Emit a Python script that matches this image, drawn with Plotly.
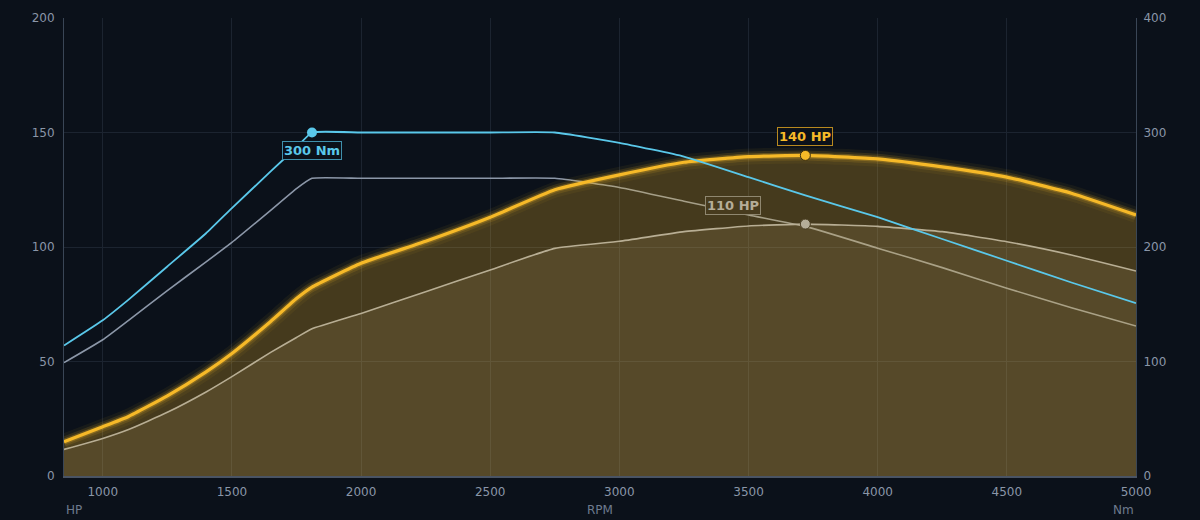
import plotly.graph_objects as go

# engine speed (RPM)
rpm = [850, 1000, 1100, 1250, 1400, 1500, 1650, 1750, 1810, 2000, 2250, 2500, 2750,
       3000, 3250, 3500, 3720, 4000, 4250, 4500, 4750, 5000]

# power curves (HP)
hp_tuned = [15, 21.5, 26, 35, 45.5, 53.5, 67.5, 77.5, 82.5, 92.9, 102.5, 113, 125,
            131.5, 137, 139.5, 140, 138.5, 135, 130.5, 123.5, 114]
hp_stock = [11.6, 16.4, 20.3, 27.8, 36.7, 43.4, 54, 60.5, 64.3, 71, 80.5, 90, 99.4,
            102.5, 106.7, 109.2, 110, 109, 106.7, 102.3, 96.5, 89.5]

# torque curves (Nm)
nm_tuned = [114, 136, 154, 183, 212, 234, 266, 287, 300, 300, 300, 300, 300,
            291, 279, 261, 245, 226, 207, 188, 169, 151]
nm_stock = [99, 119, 136, 162, 187, 204, 232, 251, 260, 260, 260, 260, 260,
            252, 240, 228, 218, 199, 182, 164, 147, 131]

x_ticks = [1000, 1500, 2000, 2500, 3000, 3500, 4000, 4500, 5000]

BG = "#0b111a"
GRID = "#1c2430"
TICK = "#8a96a8"
YELLOW = "#f6b928"
CYAN = "#5ac8ea"
TAN = "#b8ae94"
FONT = "DejaVu Sans"
SMOOTH = 0.4

fig = go.Figure()

# stock torque sits under the power fills (base subplot, Nm)
fig.add_trace(go.Scatter(x=rpm, y=nm_stock, mode="lines", yaxis="y",
                         line=dict(color="#8c97a8", width=1.6, shape="spline", smoothing=SMOOTH),
                         hoverinfo="skip"))

# power traces on the HP axis
fig.add_trace(go.Scatter(x=rpm, y=hp_tuned, mode="lines", yaxis="y2", fill="tozeroy",
                         fillcolor="rgba(245,185,40,0.25)",
                         line=dict(width=0, shape="spline", smoothing=SMOOTH),
                         hoverinfo="skip"))
fig.add_trace(go.Scatter(x=rpm, y=hp_stock, mode="lines", yaxis="y2", fill="tozeroy",
                         fillcolor="rgba(200,175,120,0.13)",
                         line=dict(color=TAN, width=1.6, shape="spline", smoothing=SMOOTH),
                         hoverinfo="skip"))
# glow
for w, a in [(16, 0.06), (10, 0.13), (6, 0.25)]:
    fig.add_trace(go.Scatter(x=rpm, y=hp_tuned, mode="lines", yaxis="y2",
                             line=dict(color=f"rgba(245,185,40,{a})", width=w,
                                       shape="spline", smoothing=SMOOTH),
                             hoverinfo="skip"))
fig.add_trace(go.Scatter(x=rpm, y=hp_tuned, mode="lines", yaxis="y2",
                         line=dict(color=YELLOW, width=3.2, shape="spline", smoothing=SMOOTH),
                         hoverinfo="skip"))

# peak markers
pk_t = hp_tuned.index(max(hp_tuned))
pk_s = hp_stock.index(max(hp_stock))
fig.add_trace(go.Scatter(x=[rpm[pk_s]], y=[hp_stock[pk_s]], mode="markers", yaxis="y2",
                         marker=dict(color="#b5ad98", size=10,
                                     line=dict(color="#4a3e22", width=1)), hoverinfo="skip"))
fig.add_trace(go.Scatter(x=[rpm[pk_t]], y=[hp_tuned[pk_t]], mode="markers", yaxis="y2",
                         marker=dict(color=YELLOW, size=10,
                                     line=dict(color="#3a2e10", width=1)), hoverinfo="skip"))

# tuned torque on top
pk_n = nm_tuned.index(max(nm_tuned))
fig.add_trace(go.Scatter(x=rpm, y=nm_tuned, mode="lines", yaxis="y3",
                         line=dict(color=CYAN, width=1.8, shape="spline", smoothing=SMOOTH),
                         hoverinfo="skip"))
fig.add_trace(go.Scatter(x=[rpm[pk_n]], y=[nm_tuned[pk_n]], mode="markers", yaxis="y3",
                         marker=dict(color=CYAN, size=10), hoverinfo="skip"))

label_font = dict(family=FONT, size=13)
title_font = dict(family=FONT, size=12, color="#6e7b8e")
annotations = [
    dict(x=rpm[pk_n], y=nm_tuned[pk_n], xref="x", yref="y3", text="<b>300 Nm</b>",
         showarrow=False, yshift=-18, font=dict(color=CYAN, **label_font),
         bgcolor=BG, bordercolor="#3f8fab", borderwidth=1, borderpad=1),
    dict(x=rpm[pk_t], y=hp_tuned[pk_t], xref="x", yref="y2", text="<b>140 HP</b>",
         showarrow=False, yshift=19, font=dict(color=YELLOW, **label_font),
         bgcolor=BG, bordercolor="#b8891f", borderwidth=1, borderpad=1),
    dict(x=rpm[pk_s], y=hp_stock[pk_s], xref="x", yref="y2", text="<b>110 HP</b>",
         showarrow=False, yshift=19, xshift=-72, font=dict(color="#b5ad98", **label_font),
         bgcolor="#473b1e", bordercolor="#8f8770", borderwidth=1, borderpad=1),
    dict(x=0, y=-0.074, xref="paper", yref="paper", text="HP", showarrow=False,
         xanchor="left", yanchor="middle", font=title_font),
    dict(x=0.5, y=-0.074, xref="paper", yref="paper", text="RPM", showarrow=False,
         xanchor="center", yanchor="middle", font=title_font),
    dict(x=1, y=-0.074, xref="paper", yref="paper", text="Nm", showarrow=False,
         xanchor="right", yanchor="middle", font=title_font),
]

fig.update_layout(
    width=1200, height=520,
    paper_bgcolor=BG, plot_bgcolor=BG,
    margin=dict(l=64, r=64, t=18, b=44),
    showlegend=False,
    font=dict(family=FONT, size=12, color=TICK),
    xaxis=dict(range=[850, 5000], tickvals=x_ticks, showgrid=True, gridcolor=GRID,
               zeroline=False, showline=True, linecolor="#4a5464", linewidth=2,
               ticks="", ticklabelstandoff=4, tickfont=dict(color=TICK, size=12)),
    yaxis=dict(range=[0, 400], tickvals=[0, 100, 200, 300, 400], side="right",
               showgrid=True, gridcolor=GRID, zeroline=False, showline=True,
               linecolor="#3a4656", linewidth=1, ticks="", ticklabelstandoff=4,
               tickfont=dict(color=TICK, size=12)),
    yaxis2=dict(range=[0, 200], tickvals=[0, 50, 100, 150, 200], side="left",
                overlaying="y", showgrid=False, zeroline=False, showline=True,
                linecolor="#3a4656", linewidth=1, ticks="", ticklabelstandoff=6,
                tickfont=dict(color=TICK, size=12)),
    yaxis3=dict(range=[0, 400], overlaying="y", visible=False),
    annotations=annotations,
)

fig.write_html("out.html", config={"displayModeBar": False},
               post_script="document.body.style.margin='0';"
                           "document.body.style.background='#0b111a';")
